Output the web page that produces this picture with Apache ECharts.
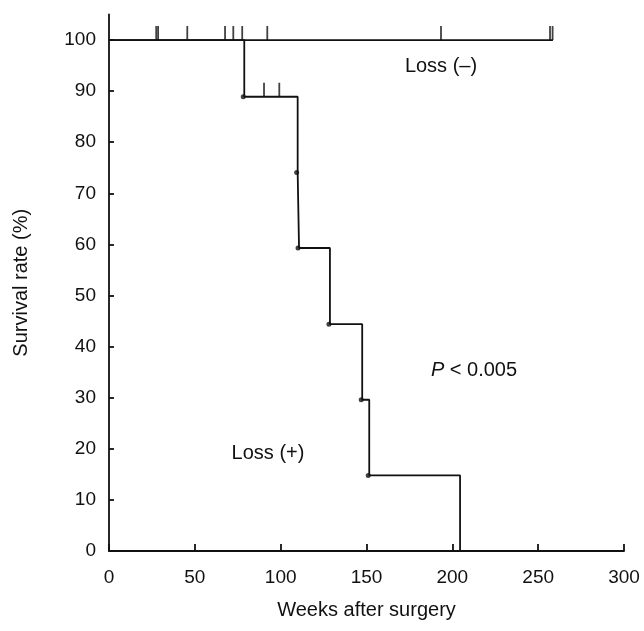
<!DOCTYPE html>
<html>
<head>
<meta charset="utf-8">
<script src="https://cdn.jsdelivr.net/npm/echarts@6/dist/echarts.min.js"></script>
<style>html,body{margin:0;padding:0;background:#fff}#c{width:644px;height:631px}</style>
</head>
<body>
<div id="c"></div>
<script>
// Loss (-) group: flat at 100 %
const lossNegTimes = [0, 258.6];
const lossNegValues = [100, 100];
const lossNegCensored = [27.5, 28.6, 45.6, 67.6, 72.4, 77.6, 92.2, 193.4, 256.9, 258.4];

// Loss (+) group: Kaplan-Meier steps
const lossPosTimes = [0, 78.8, 109.9, 110.7, 128.7, 147.5, 151.6, 204.5];
const lossPosValues = [100, 88.9, 74.1, 59.3, 44.4, 29.6, 14.8, 0];
const lossPosCensoredTimes = [90.3, 99.2];
const lossPosCensoredValues = [88.9, 88.9];

const xTicks = [0, 50, 100, 150, 200, 250, 300];
const yTicks = [0, 10, 20, 30, 40, 50, 60, 70, 80, 90, 100];

const FONT = 'Liberation Sans, Arial, Helvetica, sans-serif';
const INK = '#111';
const LW = 1.8;

const chart = echarts.init(document.getElementById('c'));
const tickSymbol = 'rect';
chart.setOption({
  animation: false,
  backgroundColor: '#fff',
  grid: { left: 109, right: 20, top: 14.5, bottom: 80 },
  xAxis: {
    type: 'value', min: 0, max: 300, interval: 50,
    name: 'Weeks after surgery', nameLocation: 'middle', nameGap: 49,
    nameTextStyle: { fontFamily: FONT, fontSize: 20, color: INK },
    axisLine: { onZero: false, lineStyle: { color: INK, width: LW } },
    axisTick: { inside: true, length: 7, lineStyle: { color: INK, width: LW } },
    axisLabel: { margin: 17, fontFamily: FONT, fontSize: 19, color: INK },
    splitLine: { show: false }
  },
  yAxis: {
    type: 'value', min: 0, max: 105,
    name: 'Survival rate (%)', nameLocation: 'middle', nameGap: 78, nameRotate: 90,
    nameTextStyle: { fontFamily: FONT, fontSize: 20, color: INK },
    axisLine: { show: true, lineStyle: { color: INK, width: LW } },
    axisTick: { inside: true, length: 5, customValues: yTicks, lineStyle: { color: INK, width: LW } },
    axisLabel: { margin: 13, fontFamily: FONT, fontSize: 19, color: INK, customValues: yTicks },
    splitLine: { show: false }
  },
  series: [
    {
      type: 'line', name: 'Loss (-)', showSymbol: false,
      data: lossNegTimes.map((t, i) => [t, lossNegValues[i]]),
      lineStyle: { color: INK, width: LW }
    },
    {
      type: 'scatter', symbol: tickSymbol, symbolSize: [1.8, 14], symbolOffset: [0, -7],
      data: lossNegCensored.map(t => [t, 100]),
      itemStyle: { color: INK }
    },
    {
      type: 'line', name: 'Loss (+)', step: 'end', showSymbol: false,
      data: lossPosTimes.map((t, i) => [t, lossPosValues[i]]),
      lineStyle: { color: INK, width: LW }
    },
    {
      type: 'scatter', symbol: 'circle', symbolSize: 5, symbolOffset: [-1, 0],
      data: lossPosTimes.slice(1, -1).map((t, i) => [t, lossPosValues[i + 1]]),
      itemStyle: { color: INK }
    },
    {
      type: 'scatter', symbol: tickSymbol, symbolSize: [1.8, 14], symbolOffset: [0, -7],
      data: lossPosCensoredTimes.map((t, i) => [t, lossPosCensoredValues[i]]),
      itemStyle: { color: INK }
    }
  ],
  graphic: [
    { type: 'text', x: 441, y: 66, style: { text: 'Loss (\u2013)', fontFamily: FONT, fontSize: 20, fill: INK, align: 'center', verticalAlign: 'middle' } },
    { type: 'text', x: 268, y: 453, style: { text: 'Loss (+)', fontFamily: FONT, fontSize: 20, fill: INK, align: 'center', verticalAlign: 'middle' } },
    { type: 'text', x: 474, y: 370, style: { rich: { i: { fontStyle: 'italic', fontFamily: FONT, fontSize: 20, fill: INK }, n: { fontFamily: FONT, fontSize: 20, fill: INK } }, text: '{i|P}{n| < 0.005}', align: 'center', verticalAlign: 'middle' } }
  ]
});
</script>
</body>
</html>
